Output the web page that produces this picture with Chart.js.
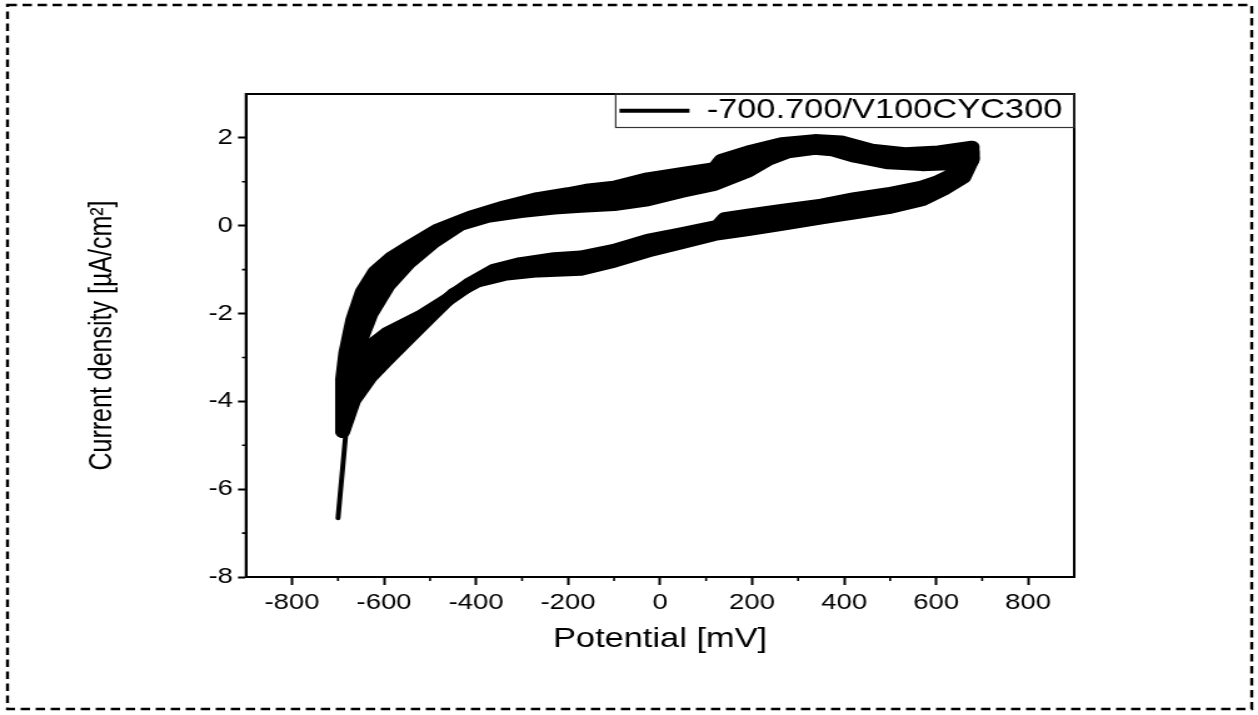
<!DOCTYPE html>
<html>
<head>
<meta charset="utf-8">
<title>Cyclic voltammogram</title>
<script src="https://cdn.jsdelivr.net/npm/chart.js@4.4.1/dist/chart.umd.min.js"></script>
<style>
  html, body { margin: 0; padding: 0; background: #fff; overflow: hidden; }
  /* the source picture is stretched sideways, so the canvas is too */
  #wrap { width: 1006px; height: 715px; transform: scaleX(1.2505); transform-origin: 0 0; }
</style>
</head>
<body>
<div id="wrap"><canvas id="cv" width="1006" height="715"></canvas></div>
<script>
// axis ticks
const xTicks = [-800, -600, -400, -200, 0, 200, 400, 600, 800];
const xMinor = [-700, -500, -300, -100, 100, 300, 500, 700];
const yTicks = [-8, -6, -4, -2, 0, 2];
const yMinor = [-7, -5, -3, -1, 1];

const legendLabel = '-700.700/V100CYC300';
const xTitle = 'Potential [mV]';
const yTitle = 'Current density [\u00b5A/cm\u00b2]';

// first sweep segment from the starting potential
const tailV = [-700, -681];
const tailJ = [-6.66, -4.5];

// outer cycle (potential mV, current density uA/cm2)
const c1V = [-690, -690, -683, -668, -647, -620, -585, -545, -484, -412, -339, -266, -200, -160, -100, -27, 46, 118, 133, 191, 264, 336, 394, 460, 532, 605, 678,
             678, 660, 620, 569, 496, 423, 351, 264, 191, 118, 46, -27, -100, -172, -266, -339, -397, -448, -499, -550, -593, -630, -666, -690];
const c1J = [-4.7, -3.5, -2.9, -2.15, -1.5, -1.05, -0.73, -0.47, -0.09, 0.21, 0.44, 0.63, 0.74, 0.82, 0.89, 1.08, 1.2, 1.31, 1.5, 1.69, 1.88, 1.95, 1.92, 1.73, 1.65, 1.69, 1.8,
             1.5, 1.1, 0.84, 0.58, 0.4, 0.28, 0.17, 0.02, -0.1, -0.21, -0.4, -0.59, -0.82, -1.0, -1.04, -1.12, -1.27, -1.55, -2.07, -2.6, -3.05, -3.45, -3.98, -4.7];

// middle cycle
const c2V = [-689, -686, -677, -657, -623, -591, -538, -482, -412, -339, -266, -200, -100, -27, 46, 118, 133, 191, 264, 336, 394, 460, 532, 605, 678,
             678, 655, 610, 569, 496, 423, 351, 264, 191, 140, 118, 46, -27, -100, -172, -230, -303, -361, -412, -463, -521, -593, -644, -672, -689];
const c2J = [-4.15, -3.6, -3.0, -2.2, -1.5, -1.0, -0.6, -0.2, 0.15, 0.35, 0.49, 0.58, 0.68, 0.83, 0.98, 1.12, 1.22, 1.46, 1.75, 1.85, 1.79, 1.62, 1.52, 1.54, 1.68,
             1.5, 1.15, 0.87, 0.74, 0.57, 0.45, 0.33, 0.19, 0.08, 0.0, -0.12, -0.28, -0.46, -0.68, -0.85, -0.88, -0.97, -1.08, -1.33, -1.7, -2.2, -2.75, -3.25, -3.75, -4.15];

// inner cycle
const c3V = [-688, -660, -628, -592, -546, -492, -434, -375, -303, -230, -172, -100, -27, 46, 118, 191, 235, 278, 336, 373, 423, 496, 569, 627, 678,
             640, 600, 569, 496, 423, 351, 264, 191, 140, 125, 46, -27, -100, -172, -230, -303, -361, -412, -463, -521, -593, -644, -688];
const c3J = [-3.7, -2.85, -2.0, -1.38, -0.85, -0.38, 0.02, 0.2, 0.31, 0.39, 0.43, 0.47, 0.58, 0.77, 0.93, 1.23, 1.5, 1.67, 1.75, 1.72, 1.57, 1.42, 1.38, 1.4, 1.55,
             1.2, 1.0, 0.89, 0.74, 0.63, 0.48, 0.36, 0.25, 0.17, 0.0, -0.17, -0.32, -0.55, -0.7, -0.74, -0.85, -1.0, -1.3, -1.68, -2.06, -2.44, -2.85, -3.7];

const BLACK = '#000';
const FONT = "'Liberation Sans', Arial, sans-serif";

function pts(v, j) {
    return v.map((x, i) => ({ x: x, y: j[i] }));
}

function cycle(v, j, w) {
    return {
        data: pts(v, j),
        showLine: true,
        pointRadius: 0,
        borderColor: BLACK,
        backgroundColor: BLACK,
        borderWidth: w,
        borderJoinStyle: 'round',
        borderCapStyle: 'round',
        tension: 0,
        fill: false
    };
}

// dashed page border, plot frame, minor ticks, legend box
const framePlugin = {
    id: 'frame',
    beforeDraw(chart) {
        const ctx = chart.ctx;
        ctx.save();
        ctx.strokeStyle = BLACK;
        ctx.lineWidth = 2.4;
        ctx.setLineDash([7.5, 4.5]);
        ctx.strokeRect(6, 5, 995, 704);
        ctx.restore();
    },
    afterLayout(chart) {
        // push the legend into the top right corner of the plot
        const lg = chart.legend;
        const a = chart.chartArea;
        if (!lg || !lg.columnSizes || !lg.columnSizes.length) return;
        const pad = lg.options.labels.padding;
        lg.left = a.right - lg.columnSizes[0].width - pad - 9.5;
        lg.right = a.right;
        lg.top = a.top;
    },
    afterDraw(chart) {
        const { ctx, chartArea: a, scales } = chart;
        ctx.save();
        ctx.strokeStyle = BLACK;
        ctx.lineWidth = 2;
        ctx.strokeRect(a.left, a.top, a.right - a.left, a.bottom - a.top);

        ctx.lineWidth = 1.6;
        ctx.beginPath();
        xMinor.forEach(v => {
            const p = scales.x.getPixelForValue(v);
            ctx.moveTo(p, a.bottom);
            ctx.lineTo(p, a.bottom + 4);
        });
        yMinor.forEach(v => {
            const p = scales.y.getPixelForValue(v);
            ctx.moveTo(a.left, p);
            ctx.lineTo(a.left - 3.2, p);
        });
        ctx.stroke();

        const lg = chart.legend;
        if (lg && lg.legendHitBoxes && lg.legendHitBoxes.length) {
            const hb = lg.legendHitBoxes[0];
            ctx.strokeStyle = '#333';
            ctx.lineWidth = 1.2;
            ctx.strokeRect(lg.left, a.top, a.right - lg.left, hb.top + hb.height + 3 - a.top);
        }
        ctx.restore();
    }
};

new Chart(document.getElementById('cv'), {
    type: 'scatter',
    data: {
        datasets: [
            cycle(c1V, c1J, 12),
            cycle(c2V, c2J, 12),
            cycle(c3V, c3J, 12),
            cycle(tailV, tailJ, 4)
        ]
    },
    options: {
        responsive: false,
        animation: false,
        events: [],
        layout: { padding: { left: 58, right: 147, top: 94, bottom: 55 } },
        scales: {
            x: {
                type: 'linear',
                min: -900,
                max: 900,
                afterBuildTicks: s => { s.ticks = xTicks.map(v => ({ value: v })); },
                afterFit: s => { s.height = 83; },
                border: { display: true, color: BLACK, width: 2 },
                grid: { drawOnChartArea: false, drawTicks: true, tickLength: 8, tickWidth: 2, tickColor: BLACK },
                ticks: { color: BLACK, font: { family: FONT, size: 22 }, padding: 5, maxRotation: 0, autoSkip: false },
                title: { display: true, text: xTitle, color: BLACK, font: { family: FONT, size: 27.5 }, padding: { top: 0, bottom: 4 } }
            },
            y: {
                type: 'linear',
                min: -8,
                max: 3,
                afterBuildTicks: s => { s.ticks = yTicks.map(v => ({ value: v })); },
                afterFit: s => { s.width = 138.7; },
                border: { display: true, color: BLACK, width: 2 },
                grid: { drawOnChartArea: false, drawTicks: true, tickLength: 6.4, tickWidth: 2, tickColor: BLACK },
                ticks: { color: BLACK, font: { family: FONT, size: 22 }, padding: 4, autoSkip: false },
                title: { display: true, text: yTitle, color: BLACK, font: { family: FONT, size: 25 }, padding: { top: 9, bottom: 0 } }
            }
        },
        plugins: {
            tooltip: { enabled: false },
            legend: {
                position: 'chartArea',
                align: 'start',
                onClick: null,
                labels: {
                    color: BLACK,
                    font: { family: FONT, size: 27.5 },
                    boxWidth: 56,
                    boxHeight: 4,
                    padding: 3,
                    generateLabels: () => [{
                        text: legendLabel,
                        fillStyle: BLACK,
                        strokeStyle: BLACK,
                        lineWidth: 0,
                        hidden: false,
                        datasetIndex: 0
                    }]
                }
            }
        }
    },
    plugins: [framePlugin]
});
</script>
</body>
</html>
